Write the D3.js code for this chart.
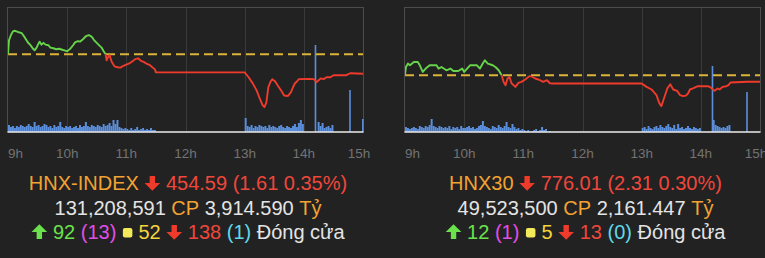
<!DOCTYPE html>
<html>
<head>
<meta charset="utf-8">
<script src="https://cdn.jsdelivr.net/npm/d3@7"></script>
<style>
  html, body { margin: 0; padding: 0; background: #222222; }
  svg { display: block; font-family: "Liberation Sans", Arial, Helvetica, sans-serif; }
</style>
</head>
<body>
<svg id="chart" width="765" height="258"></svg>
<script>
// hour ticks
const hourTicks = ["09:00", "10:00", "11:00", "12:00", "13:00", "14:00", "15:00"];
const hourLabels = ["9h", "10h", "11h", "12h", "13h", "14h", "15h"];

// HNX-INDEX intraday
const hnxRef = 456.20;
const hnxTimes = ["09:00","09:01","09:03","09:05","09:07","09:10","09:14","09:17","09:20","09:23","09:25","09:27","09:29","09:31","09:32","09:34","09:36","09:38","09:41","09:43","09:46","09:49","09:52","09:55","09:58","10:00","10:03","10:06","10:08","10:11","10:13","10:16","10:19","10:22","10:25","10:27","10:30","10:33","10:35","10:37","10:39","10:40","10:41","10:43","10:45","10:48","10:51","10:54","10:57","11:00","11:03","11:06","11:09","11:12","11:15","11:18","11:21","11:24","11:26","11:29","11:30","13:00","13:04","13:08","13:12","13:15","13:18","13:20","13:22","13:24","13:26","13:28","13:31","13:34","13:37","13:40","13:44","13:47","13:49","13:51","13:53","13:55","14:05","14:10","14:13","14:17","14:20","14:23","14:27","14:30","14:43","14:47","15:00"];
const hnxPrices = [456.20,457.36,457.80,458.10,458.15,458.05,457.95,457.60,457.20,456.94,456.70,456.53,456.75,457.10,457.25,457.00,457.15,457.00,456.95,456.75,456.70,456.62,456.66,456.58,456.50,456.45,456.65,456.95,457.19,457.30,457.25,457.45,457.70,457.80,457.65,457.40,457.15,456.90,456.75,456.45,456.20,455.70,455.90,456.15,455.60,455.20,455.13,455.10,455.25,455.35,455.45,455.60,455.80,455.87,455.65,455.55,455.40,455.30,455.15,454.95,454.70,454.70,454.30,453.81,453.23,452.60,452.00,451.82,452.20,453.47,453.90,454.14,453.95,453.55,453.20,452.78,452.75,453.06,453.47,453.80,453.95,454.14,454.16,454.14,453.89,454.20,454.14,454.30,454.30,454.47,454.47,454.63,454.59];
const hnxDomain = [449.76, 460.08];
// volume, thousand shares per 2 minutes
const hnxVolAm = [70,50,60,40,60,50,70,60,50,60, 80,60,50,100,60,70,50,60,80,70, 50,60,40,70,50,60,100,50,40,60, 50,60,40,50,60,40,70,50,60,100, 60,50,70,60,50,70,60,50,80,60, 70,90,60,120,80,120,50,40,30,40, 30,20,40,20,30,50,20,30,40,20, 30,20,40,20,20];
const hnxVolPm = [140,60,50,70,40,60,50,70,60,50, 60,40,70,50,60,50,40,60,70,50, 40,60,50,40,60,80,50,90,120,80];
const hnxVolLate = [100,60,90,40,50,60,40,70];
const hnxSpikeTimes = ["14:11","14:46","14:59"];
const hnxSpikeVols = [870,420,130];

// HNX30 intraday
const h30Ref = 778.32;
const h30Times = ["09:00","09:01","09:03","09:05","09:09","09:13","09:15","09:18","09:21","09:25","09:32","09:34","09:37","09:42","09:46","09:49","09:54","09:58","10:00","10:03","10:06","10:13","10:16","10:19","10:21","10:24","10:29","10:32","10:35","10:38","10:40","10:42","10:44","10:46","10:48","10:52","10:55","10:58","11:02","11:06","11:08","11:12","11:17","11:20","11:24","11:27","11:30","13:00","13:05","13:10","13:15","13:18","13:20","13:22","13:26","13:29","13:32","13:36","13:39","13:42","13:45","13:47","13:49","13:52","13:57","14:07","14:10","14:14","14:17","14:19","14:22","14:26","14:28","14:30","14:47","15:00"];
const h30Prices = [778.32,781.27,782.48,781.88,783.05,783.05,781.88,779.50,780.70,781.88,781.88,780.70,781.27,780.10,780.70,779.85,779.85,780.70,779.50,780.70,781.88,781.88,780.70,782.60,783.66,782.48,781.88,781.17,780.10,778.32,775.94,774.76,777.15,777.72,775.47,774.16,775.58,775.94,776.79,777.96,777.96,777.15,776.54,775.94,776.54,775.47,775.37,775.37,774.16,773.23,771.20,768.25,767.29,769.40,773.59,775.12,773.23,772.73,771.20,770.85,771.02,771.81,773.23,773.59,774.40,774.40,773.94,772.73,773.59,773.23,774.16,774.40,774.76,775.72,776.01,776.01];
const h30Domain = [758.04, 802.52];
const h30VolAm = [50,40,30,40,50,40,30,60,50,40, 60,50,70,130,60,50,40,60,50,40, 50,40,60,30,50,40,50,30,60,40, 40,50,60,40,50,30,40,60,70,110, 60,50,40,30,60,50,40,70,50,40, 60,100,50,40,80,50,30,40,20,30, 20,10,20,0,10,20,30,10,20,50, 20,30,0,10,0];
const h30VolPm = [40,50,30,60,40,30,50,60,40,70, 50,40,60,80,50,40,70,30,80,40, 50,30,40,60,40,30,50,40,30,40];
const h30VolLate = [120,70,60,50,40,50,40,60,70];
const h30SpikeTimes = ["14:11","14:46"];
const h30SpikeVols = [660,400];

// summary lines
const hnxInfo = { name: "HNX-INDEX", value: "454.59 (1.61 0.35%)", shares: "131,208,591", amount: "3,914.590",
  up: "92", ceil: "(13)", flat: "52", down: "138", floor: "(1)" };
const h30Info = { name: "HNX30", value: "776.01 (2.31 0.30%)", shares: "49,523,500", amount: "2,161.447",
  up: "12", ceil: "(1)", flat: "5", down: "13", floor: "(0)" };

const C = {
  bg: "#222222", border: "#4c4c4c", grid: "#3a3a3a", tick: "#737373",
  green: "#66d34a", red: "#ee3b2c", ref: "#dcb43a", vol: "#5b8fdc", base: "#e6e6e6",
  orange: "#f2a332", redText: "#f0473b", white: "#e4e4e4", upGreen: "#6be24c",
  magenta: "#e24de6", yellow: "#f3d43c", square: "#f2ea5a", cyan: "#5fd8ea"
};

const svg = d3.select("#chart");
svg.append("rect").attr("width", 765).attr("height", 258).attr("fill", C.bg);

const parse = d3.timeParse("%H:%M");
const addMin = (t, m) => new Date(parse(t).getTime() + m * 60000);

function panel(id, x0, x1, ref, times, prices, domain, volSets, spikeTimes, spikeVols) {
  const top = 7.5, bottom = 132;
  const g = svg.append("g");
  const x = d3.scaleTime().domain([parse("09:00"), parse("15:00")]).range([x0, x1]);
  const y = d3.scaleLinear().domain(domain).range([bottom, top]);
  const yv = d3.scaleLinear().domain([0, 900]).range([0, 90]);

  // grid
  g.selectAll("line.grid").data(hourTicks.slice(1, -1)).enter().append("line")
    .attr("x1", d => Math.round(x(parse(d))) + 0.5).attr("x2", d => Math.round(x(parse(d))) + 0.5)
    .attr("y1", top).attr("y2", bottom)
    .attr("stroke", C.grid).attr("stroke-width", 1);
  g.append("rect").attr("x", x0 - 0.5).attr("y", top).attr("width", x1 - x0 + 1).attr("height", bottom - top)
    .attr("fill", "none").attr("stroke", C.border).attr("stroke-width", 1);

  // volume bars
  const bw = x(addMin("09:00", 2)) - x(parse("09:00"));
  volSets.forEach(s => {
    g.selectAll(null).data(s.values).enter().append("rect")
      .attr("x", (d, i) => x(addMin(s.start, i * 2)))
      .attr("width", bw)
      .attr("y", d => bottom - yv(d))
      .attr("height", d => yv(d))
      .attr("fill", C.vol);
  });
  g.selectAll(null).data(spikeTimes).enter().append("rect")
    .attr("x", d => x(parse(d)))
    .attr("width", 1.6)
    .attr("y", (d, i) => bottom - yv(spikeVols[i]))
    .attr("height", (d, i) => yv(spikeVols[i]))
    .attr("fill", C.vol);

  // baseline
  g.append("line").attr("x1", x0 - 0.5).attr("x2", x1 + 0.5).attr("y1", bottom).attr("y2", bottom)
    .attr("stroke", C.base).attr("stroke-width", 1.6);

  // price line, green above reference, red below
  const pts = times.map((t, i) => [x(parse(t)), y(prices[i])]);
  const line = d3.line().curve(d3.curveLinear);
  const yr = y(ref);
  const defs = svg.append("defs");
  defs.append("clipPath").attr("id", id + "-up").append("rect")
    .attr("x", x0).attr("y", 0).attr("width", x1 - x0).attr("height", yr);
  defs.append("clipPath").attr("id", id + "-dn").append("rect")
    .attr("x", x0).attr("y", yr).attr("width", x1 - x0).attr("height", 258 - yr);

  g.append("line").attr("x1", x0).attr("x2", x1).attr("y1", yr).attr("y2", yr)
    .attr("stroke", C.ref).attr("stroke-width", 2).attr("stroke-dasharray", "9,5");

  g.append("path").attr("d", line(pts)).attr("fill", "none").attr("stroke", C.green)
    .attr("stroke-width", 1.9).attr("stroke-linejoin", "round").attr("clip-path", `url(#${id}-up)`);
  g.append("path").attr("d", line(pts)).attr("fill", "none").attr("stroke", C.red)
    .attr("stroke-width", 1.9).attr("stroke-linejoin", "round").attr("clip-path", `url(#${id}-dn)`);

  // hour labels
  g.selectAll("text.tick").data(hourTicks).enter().append("text")
    .attr("x", (d, i) => i === 0 ? x0 : x(parse(d)) + (i === hourTicks.length - 1 ? -4 : 0))
    .attr("y", 158)
    .attr("text-anchor", (d, i) => i === 0 ? "start" : "middle")
    .attr("font-size", 13.5)
    .attr("fill", C.tick)
    .text((d, i) => hourLabels[i]);
}

panel("hnx", 8, 363, hnxRef, hnxTimes, hnxPrices, hnxDomain,
  [{ start: "09:00", values: hnxVolAm }, { start: "13:00", values: hnxVolPm }, { start: "14:14", values: hnxVolLate }],
  hnxSpikeTimes, hnxSpikeVols);
panel("h30", 405, 760, h30Ref, h30Times, h30Prices, h30Domain,
  [{ start: "09:00", values: h30VolAm }, { start: "13:00", values: h30VolPm }, { start: "14:12", values: h30VolLate }],
  h30SpikeTimes, h30SpikeVols);

// summary text rows built from pieces, centred under each chart
const FS = 20;
function measure(str) {
  const t = svg.append("text").attr("font-size", FS).text(str);
  const w = t.node().getComputedTextLength();
  t.remove();
  return w;
}
const arrowPath = "M-2.7,-14 L2.7,-14 L2.7,-7 L7.8,-7 L0,0.8 L-7.8,-7 L-2.7,-7 Z";
function row(cx, baseline, pieces) {
  const sp = measure("a b") - measure("ab");
  const widths = pieces.map(p => p.text ? measure(p.text) : p.w);
  const total = d3.sum(widths) + sp * (pieces.length - 1);
  let cur = cx - total / 2;
  const g = svg.append("g");
  pieces.forEach((p, i) => {
    const w = widths[i];
    if (p.text) {
      g.append("text").attr("x", cur).attr("y", baseline).attr("font-size", FS)
        .attr("fill", p.color).text(p.text);
    } else if (p.icon === "down" || p.icon === "up") {
      g.append("path").attr("d", arrowPath).attr("fill", p.color)
        .attr("transform", p.icon === "down"
          ? `translate(${cur + w / 2},${baseline})`
          : `translate(${cur + w / 2},${baseline - 14}) scale(1,-1)`);
    } else if (p.icon === "square") {
      g.append("rect").attr("x", cur + 1).attr("y", baseline - 11).attr("width", 9.5).attr("height", 9.5)
        .attr("rx", 2).attr("fill", p.color);
    }
    cur += w + sp;
  });
}
function summary(cx, info) {
  row(cx, 190, [
    { text: info.name, color: C.orange },
    { icon: "down", w: 16, color: C.red },
    { text: info.value, color: C.redText }
  ]);
  row(cx, 215, [
    { text: info.shares, color: C.white },
    { text: "CP", color: C.orange },
    { text: info.amount, color: C.white },
    { text: "Tỷ", color: C.orange }
  ]);
  row(cx, 239, [
    { icon: "up", w: 16, color: C.upGreen },
    { text: info.up, color: C.upGreen },
    { text: info.ceil, color: C.magenta },
    { icon: "square", w: 11, color: C.square },
    { text: info.flat, color: C.yellow },
    { icon: "down", w: 16, color: C.red },
    { text: info.down, color: C.redText },
    { text: info.floor, color: C.cyan },
    { text: "Đóng cửa", color: C.white }
  ]);
}
summary(188, hnxInfo);
summary(585.5, h30Info);
</script>
</body>
</html>
